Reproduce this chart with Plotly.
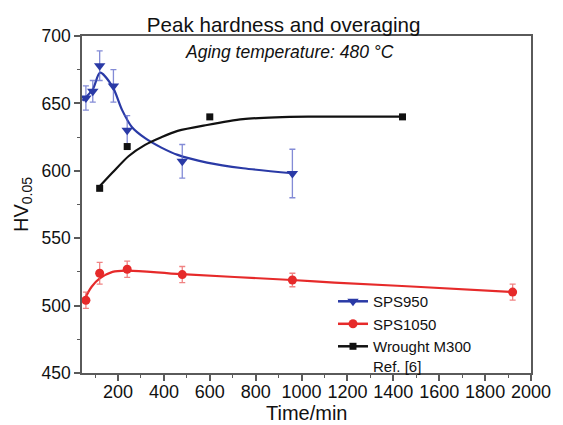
import plotly.graph_objects as go

# ---- data ----
sps950_t = [60, 90, 120, 180, 240, 480, 960]
sps950_hv = [654, 659, 678, 663, 630, 607, 598]
sps950_err = [9, 8, 11, 12, 11, 12.5, 18]

sps950_fit_t = [45, 90, 122, 176, 218, 261, 318, 389, 460, 588, 745, 960]
sps950_fit_hv = [652, 660.5, 672.8, 662.4, 645, 632.3, 624.2, 617.2, 611.8, 606.1, 601.9, 598.2]

sps1050_t = [60, 120, 240, 480, 960, 1920]
sps1050_hv = [504, 524, 527, 523, 519, 510]
sps1050_err = [6, 8, 6, 6, 5, 6]

sps1050_fit_t = [55, 85, 119, 176, 237, 477, 958, 1143, 1500, 1920]
sps1050_fit_hv = [505, 514, 520, 525, 526, 523.3, 519, 517, 514, 510]

m300_t = [120, 240, 600, 1440]
m300_hv = [587, 618, 640, 640]

m300_fit_t = [119, 176, 247, 318, 389, 460, 588, 745, 887, 1029, 1440]
m300_fit_hv = [588.3, 598.7, 611, 619.2, 624.9, 629.6, 634, 638.3, 639.7, 640.2, 640.2]

x_ticks = [200, 400, 600, 800, 1000, 1200, 1400, 1600, 1800, 2000]
y_ticks = [450, 500, 550, 600, 650, 700]

BLUE = "#2a3aa6"
BLUE_ERR = "rgba(90,100,200,0.75)"
RED = "#e62a2a"
RED_ERR = "rgba(235,90,90,0.75)"
BLACK = "#111111"
AXIS = "#5a5a5a"
FONT = "Liberation Sans, Arial, sans-serif"

fig = go.Figure()

# fitted curves
fig.add_trace(go.Scatter(x=sps950_fit_t, y=sps950_fit_hv, mode="lines",
                         line=dict(color=BLUE, width=2.2, shape="spline", smoothing=0.8),
                         showlegend=False, hoverinfo="skip"))
fig.add_trace(go.Scatter(x=sps1050_fit_t, y=sps1050_fit_hv, mode="lines",
                         line=dict(color=RED, width=2.2, shape="spline", smoothing=1.0),
                         showlegend=False, hoverinfo="skip"))
fig.add_trace(go.Scatter(x=m300_fit_t, y=m300_fit_hv, mode="lines",
                         line=dict(color=BLACK, width=2.2, shape="spline", smoothing=0.8),
                         showlegend=False, hoverinfo="skip"))

# data points
fig.add_trace(go.Scatter(x=sps950_t, y=sps950_hv, mode="markers",
                         marker=dict(symbol="triangle-down", size=10, color=BLUE),
                         error_y=dict(type="data", array=sps950_err, color=BLUE_ERR,
                                      thickness=1.3, width=3),
                         showlegend=False))
fig.add_trace(go.Scatter(x=sps1050_t, y=sps1050_hv, mode="markers",
                         marker=dict(symbol="circle", size=9, color=RED),
                         error_y=dict(type="data", array=sps1050_err, color=RED_ERR,
                                      thickness=1.3, width=3),
                         showlegend=False))
fig.add_trace(go.Scatter(x=m300_t, y=m300_hv, mode="markers",
                         marker=dict(symbol="square", size=7, color=BLACK),
                         showlegend=False))

# legend entries
fig.add_trace(go.Scatter(x=[None], y=[None], mode="lines+markers", name="SPS950",
                         line=dict(color=BLUE, width=2.5),
                         marker=dict(symbol="triangle-down", size=10, color=BLUE)))
fig.add_trace(go.Scatter(x=[None], y=[None], mode="lines+markers", name="SPS1050",
                         line=dict(color=RED, width=2.5),
                         marker=dict(symbol="circle", size=9, color=RED)))
fig.add_trace(go.Scatter(x=[None], y=[None], mode="lines+markers",
                         name="Wrought M300<br>Ref. [6]",
                         line=dict(color=BLACK, width=2.5),
                         marker=dict(symbol="square", size=7, color=BLACK)))

# page body adds an 8px margin, so the figure is 8px smaller than the window
fig.update_layout(
    width=555, height=417,
    margin=dict(l=74, r=22, t=28, b=52),
    paper_bgcolor="white", plot_bgcolor="white",
    font=dict(family=FONT, size=17, color="#111111"),
    title=dict(text="Peak hardness and overaging", xref="paper", yref="container",
               x=0.449, xanchor="center", y=0.959, yanchor="middle",
               font=dict(size=20.6, family=FONT, color="#111111")),
    showlegend=True,
    legend=dict(x=0.559, y=0.261, xanchor="left", yanchor="top",
                bgcolor="rgba(0,0,0,0)", font=dict(size=15, family=FONT),
                tracegroupgap=0, valign="top", itemwidth=30),
    annotations=[
        dict(text="<i>Aging temperature: 480 °C</i>", xref="paper", yref="paper",
             x=0.462, y=0.9525, xanchor="center", yanchor="middle",
             showarrow=False, font=dict(size=17.5, family=FONT)),
        dict(text="Time/min", xref="paper", yref="paper",
             x=0.5, y=-0.119, xanchor="center", yanchor="middle",
             showarrow=False, font=dict(size=20, family=FONT)),
    ],
)

fig.update_xaxes(range=[43, 2000], tickvals=x_ticks, ticktext=[str(v) for v in x_ticks],
                 showgrid=False, zeroline=False, showline=True, linecolor=AXIS,
                 linewidth=1.5, mirror=True, ticks="outside", ticklen=6, tickwidth=1.5,
                 tickcolor=AXIS, ticklabelstandoff=-4,
                 minor=dict(dtick=100, tick0=0, ticks="outside", ticklen=3,
                            tickcolor=AXIS, tickwidth=1),
                 tickfont=dict(size=18))
fig.update_yaxes(range=[450, 700], tickvals=y_ticks, ticktext=[str(v) for v in y_ticks],
                 showgrid=False, zeroline=False, showline=True, linecolor=AXIS,
                 linewidth=1.5, mirror=True, ticks="outside", ticklen=6, tickwidth=1.5,
                 tickcolor=AXIS,
                 minor=dict(dtick=25, tick0=450, ticks="outside", ticklen=3,
                            tickcolor=AXIS, tickwidth=1),
                 title=dict(text="HV<sub>0.05</sub>", font=dict(size=20), standoff=8),
                 tickfont=dict(size=17.5))

fig.write_html("out.html")
